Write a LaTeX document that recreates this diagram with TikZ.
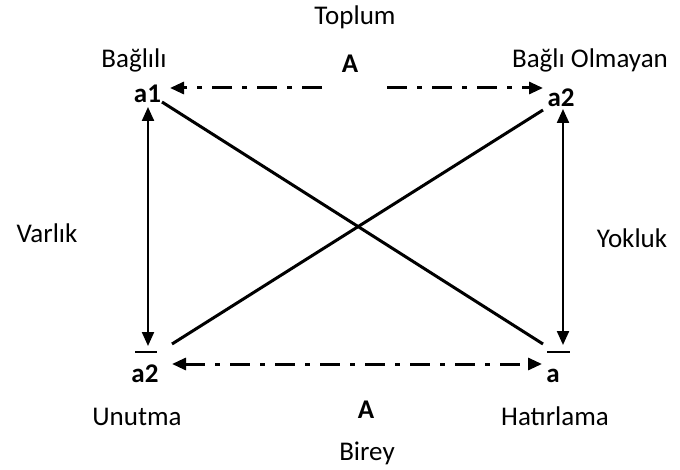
\documentclass[tikz,border=0pt]{standalone}
\usepackage{fontspec}
\setmainfont{Carlito}
\usetikzlibrary{arrows.meta}
\begin{document}
\begin{tikzpicture}[x=1pt,y=-1pt,
  lbl/.style={anchor=base,inner sep=0pt,font=\fontsize{27}{31}\selectfont},
  blbl/.style={lbl,font=\fontsize{27}{31}\selectfont\bfseries},
  tip/.style={-{Triangle[length=14pt,width=12pt]}},
  dtip/.style={{Triangle[length=14pt,width=12pt]}-{Triangle[length=14pt,width=12pt]}},
  dashdot/.style={line width=3pt,dash pattern=on 20pt off 10pt on 5pt off 10pt},
  vline/.style={line width=2.2pt},
  diag/.style={line width=3pt}]
\useasboundingbox (0,0) rectangle (680,470);
% labels
\node[lbl] (toplum) at (355,25) {Toplum};
\node[lbl] (bagli) at (134,68) {Bağlılı};
\node[blbl] (Atop) at (350,73) {A};
\node[lbl] (bagliol) at (590,68) {Bağlı Olmayan};
\node[blbl] (a1) at (147.5,103) {a1};
\node[blbl] (a2r) at (561,107) {a2};
\node[blbl] (a2l) at (145,382) {a2};
\node[blbl] (ar) at (553,382) {a};
\node[lbl] (varlik) at (47,243) {Varlık};
\node[lbl] (yokluk) at (632,248) {Yokluk};
\node[lbl] (unutma) at (137,425) {Unutma};
\node[blbl] (Abot) at (366,418) {A};
\node[lbl] (hatir) at (555,425) {Hatırlama};
\node[lbl] (birey) at (367,460) {Birey};
% overbars
\coordinate (obl1) at (135,352); \coordinate (obl2) at (157,352);
\coordinate (obr1) at (547,352); \coordinate (obr2) at (570,352);
\draw[line width=2pt] (obl1) -- (obl2);
\draw[line width=2pt] (obr1) -- (obr2);
% arrow end points
\coordinate (vlt) at (148,107); \coordinate (vlb) at (148,346);
\coordinate (vrt) at (563,109); \coordinate (vrb) at (563,345);
\coordinate (htl) at (170,88); \coordinate (htm1) at (322,88);
\coordinate (htm2) at (387,88); \coordinate (htr) at (543,88);
\coordinate (hbl) at (172,364); \coordinate (hbr) at (542,364);
\coordinate (d1s) at (162,102); \coordinate (d1e) at (543,344);
\coordinate (d2s) at (543,110); \coordinate (d2e) at (172,344);
% connectors
\draw[vline,dtip] (vlt) -- (vlb);
\draw[vline,dtip] (vrt) -- (vrb);
\draw[dashdot,tip] (htm1) -- (htl);
\draw[dashdot,tip] (htm2) -- (htr);
\draw[dashdot,dtip] (hbl) -- (hbr);
\draw[diag] (d1s) -- (d1e);
\draw[diag] (d2s) -- (d2e);
\end{tikzpicture}
\end{document}
